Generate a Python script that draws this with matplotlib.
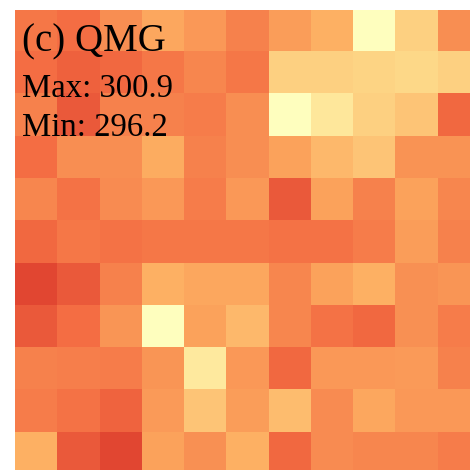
import matplotlib
matplotlib.use("Agg")
import matplotlib.pyplot as plt
import numpy as np

# surface temperature field (K), rows top -> bottom
temps = [
    [299.9, 300.1, 299.4, 298.9, 299.2, 299.7, 299.1, 298.7, 296.2, 297.9, 299.4],
    [300.1, 300.35, 300.2, 299.9, 299.6, 299.9, 297.9, 297.9, 297.8, 297.7, 297.9],
    [299.7, 300.5, 299.7, 299.7, 299.8, 299.4, 296.25, 297.2, 297.9, 298.2, 300.2],
    [300.1, 299.4, 299.4, 298.8, 299.7, 299.4, 299.0, 298.5, 298.2, 299.3, 299.3],
    [299.6, 300.0, 299.5, 299.2, 299.8, 299.2, 300.5, 299.0, 299.7, 299.0, 299.6],
    [300.2, 299.9, 300.0, 299.9, 299.9, 299.9, 300.0, 300.0, 299.8, 299.1, 299.7],
    [300.9, 300.5, 299.7, 298.7, 298.9, 298.9, 299.6, 299.0, 298.7, 299.35, 299.25],
    [300.5, 300.1, 299.25, 296.2, 299.0, 298.5, 299.6, 300.0, 300.2, 299.35, 299.8],
    [299.7, 299.75, 299.8, 299.25, 297.1, 299.2, 300.2, 299.2, 299.2, 299.15, 299.7],
    [299.8, 300.0, 300.3, 299.15, 298.2, 299.1, 298.4, 299.5, 298.9, 299.2, 299.2],
    [298.7, 300.5, 300.9, 299.0, 299.35, 298.7, 300.2, 299.5, 299.6, 299.6, 299.8],
]
panel_title = "(c) QMG"
t_max = 300.9
t_min = 296.2
vmin, vmax = 289.7, 302.7

data = np.array(temps)

fig = plt.figure(figsize=(4.7, 4.7), dpi=100)
cell = 42.2 / 470
ax = fig.add_axes([15.3 / 470, (470 - 10 - 11 * 42.2) / 470, 11 * cell, 11 * cell])
ax.imshow(data, cmap="RdYlBu_r", vmin=vmin, vmax=vmax,
          interpolation="nearest", aspect="auto")
ax.set_axis_off()

font = dict(family="Liberation Serif", color="black")
fig.text(21.5 / 470, 1 - 51.7 / 470, panel_title, fontsize=28, va="baseline", **font)
fig.text(21.5 / 470, 1 - 97.3 / 470, f"Max: {t_max:.1f}", fontsize=23.6, va="baseline", **font)
fig.text(21.5 / 470, 1 - 136 / 470, f"Min: {t_min:.1f}", fontsize=23.6, va="baseline", **font)

fig.savefig("out.png", dpi=100)
